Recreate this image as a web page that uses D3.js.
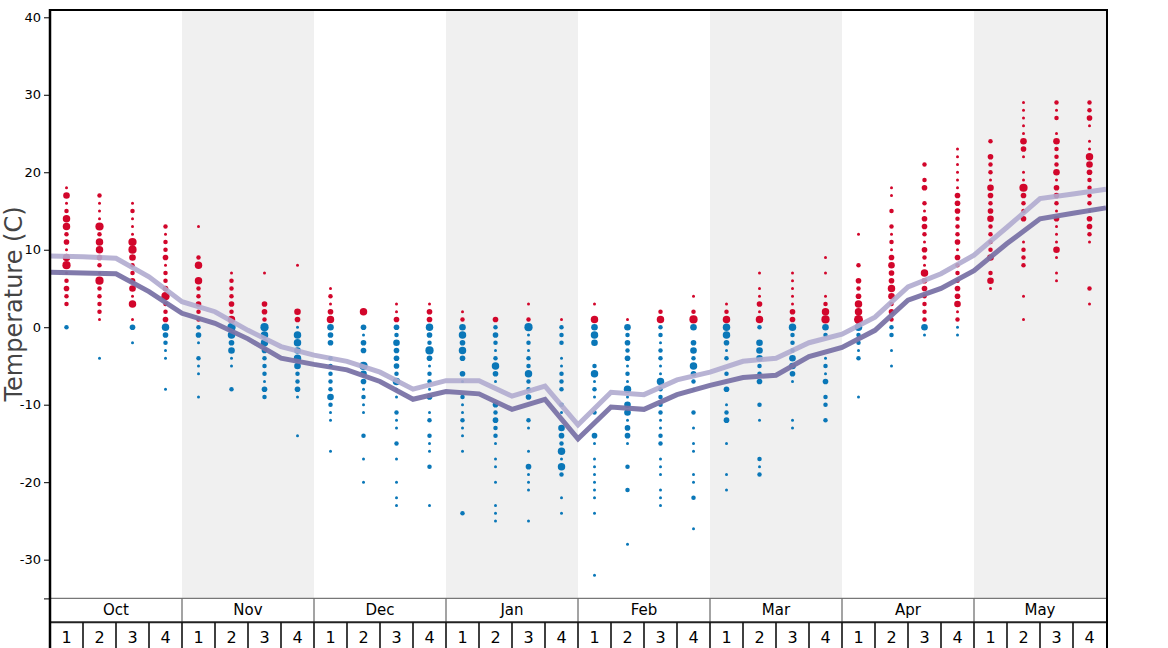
<!DOCTYPE html>
<html><head><meta charset="utf-8">
<script src="https://cdn.jsdelivr.net/npm/d3@7"></script>
<style>
html,body{margin:0;padding:0;background:#fff;}
svg{display:block;font-family:"DejaVu Sans",sans-serif;}
</style></head>
<body><svg id="chart" width="1168" height="648"></svg>
<script>
const months = ["Oct","Nov","Dec","Jan","Feb","Mar","Apr","May"];
const weeks = ["1","2","3","4"];
const yTicks = [-30,-20,-10,0,10,20,30,40];
const yLabel = "Temperature (C)";

// observed temperatures per week: [temperature, number of observations]
const obsOct = [
 [[18,1],[17,4],[16,1],[15,2],[14,5],[13,5],[12,2],[11,3],[10,1],[9,5],[8,6],[7,1],[6,2],[5,3],[4,2],[3,2],[0,2]],
 [[17,2],[16,1],[15,1],[14,1],[13,6],[12,2],[11,5],[10,5],[9,3],[8,2],[7,1],[6,6],[5,2],[4,2],[3,2],[2,2],[1,1],[-4,1]],
 [[16,1],[15,2],[14,1],[13,1],[12,1],[11,6],[10,6],[9,4],[8,2],[7,2],[6,3],[5,4],[4,1],[3,5],[1,1],[0,3],[-2,1]],
 [[13,2],[12,1],[11,2],[10,2],[9,3],[8,1],[7,2],[6,2],[5,3],[4,6],[3,2],[2,2],[1,3],[0,5],[-1,3],[-2,2],[-3,1],[-4,1],[-8,1]]
];
const obsNov = [
 [[13,1],[9,2],[8,5],[6,5],[5,2],[4,2],[3,3],[2,2],[1,2],[0,2],[-1,3],[-2,1],[-4,2],[-5,1],[-6,1],[-9,1]],
 [[7,1],[6,2],[5,2],[4,2],[3,3],[2,2],[1,5],[0,6],[-1,5],[-2,3],[-3,4],[-4,1],[-5,1],[-8,2]],
 [[7,1],[3,3],[2,3],[1,2],[0,6],[-1,5],[-2,5],[-3,3],[-4,2],[-5,2],[-6,2],[-7,1],[-8,3],[-9,2]],
 [[8,1],[2,4],[1,3],[0,1],[-1,5],[-2,5],[-3,4],[-4,5],[-5,4],[-6,2],[-7,2],[-8,3],[-9,1],[-14,1]]
];
const obsDec = [
 [[5,1],[4,2],[3,1],[2,3],[1,5],[0,4],[-1,3],[-2,3],[-4,2],[-5,2],[-6,2],[-7,2],[-8,2],[-9,4],[-10,2],[-11,1],[-12,1],[-16,1]],
 [[2,5],[0,3],[-1,1],[-2,3],[-3,3],[-5,6],[-6,4],[-7,3],[-8,1],[-9,2],[-10,1],[-11,1],[-14,2],[-17,1],[-20,1]],
 [[3,1],[2,1],[1,3],[0,3],[-1,2],[-2,4],[-3,3],[-4,3],[-5,3],[-6,2],[-7,5],[-8,1],[-9,1],[-11,2],[-12,1],[-13,1],[-15,2],[-17,1],[-20,1],[-22,1],[-23,1]],
 [[3,1],[2,3],[1,3],[0,5],[-1,3],[-2,2],[-3,6],[-4,3],[-5,1],[-6,2],[-7,2],[-8,1],[-9,3],[-11,1],[-12,2],[-14,2],[-15,1],[-16,1],[-18,2],[-23,1]]
];
const obsJan = [
 [[2,1],[1,2],[0,4],[-1,5],[-2,3],[-3,5],[-4,3],[-6,3],[-7,1],[-9,2],[-10,1],[-11,1],[-12,2],[-13,1],[-14,1],[-16,1],[-24,2]],
 [[1,3],[0,2],[-1,3],[-2,2],[-3,1],[-4,2],[-5,5],[-6,3],[-7,1],[-10,3],[-11,2],[-12,3],[-13,2],[-14,2],[-15,1],[-17,1],[-18,1],[-20,1],[-23,1],[-24,1],[-25,1]],
 [[3,1],[1,2],[0,6],[-1,1],[-2,2],[-3,1],[-4,2],[-5,2],[-6,5],[-7,2],[-8,2],[-9,3],[-12,2],[-13,1],[-16,1],[-18,3],[-19,1],[-20,1],[-21,1],[-25,1]],
 [[1,1],[0,2],[-1,2],[-2,2],[-4,1],[-5,1],[-6,2],[-7,2],[-8,2],[-10,2],[-11,1],[-13,4],[-14,3],[-15,2],[-16,5],[-17,1],[-18,5],[-19,2],[-22,1],[-24,1]]
];
const obsFeb = [
 [[3,1],[1,5],[0,4],[-1,5],[-2,4],[-5,2],[-6,5],[-7,1],[-8,2],[-9,1],[-11,2],[-14,3],[-15,1],[-17,1],[-18,1],[-19,1],[-20,1],[-21,1],[-22,1],[-24,1],[-32,1]],
 [[1,1],[0,4],[-1,2],[-2,3],[-3,2],[-4,3],[-5,1],[-6,2],[-7,1],[-8,5],[-9,1],[-10,4],[-11,4],[-12,1],[-13,3],[-14,3],[-15,1],[-18,2],[-21,2],[-28,1]],
 [[2,2],[1,5],[0,2],[-1,2],[-2,1],[-3,2],[-4,2],[-5,1],[-6,1],[-7,5],[-8,2],[-9,2],[-10,2],[-11,2],[-12,1],[-13,1],[-14,2],[-15,2],[-17,1],[-18,1],[-19,1],[-21,1],[-22,1],[-23,1]],
 [[4,1],[2,2],[1,6],[0,4],[-2,3],[-3,4],[-4,2],[-5,5],[-6,3],[-7,2],[-8,1],[-11,2],[-13,1],[-15,1],[-16,1],[-19,1],[-20,1],[-22,2],[-26,1]]
];
const obsMar = [
 [[3,1],[2,2],[1,5],[0,5],[-1,5],[-2,3],[-3,1],[-4,2],[-6,2],[-8,3],[-10,1],[-11,2],[-12,3],[-15,1],[-19,1],[-21,1]],
 [[7,1],[5,1],[4,1],[3,3],[2,1],[1,5],[0,2],[-2,4],[-3,4],[-4,4],[-5,2],[-6,2],[-7,3],[-10,2],[-12,1],[-17,2],[-18,1],[-19,2]],
 [[7,1],[6,1],[5,1],[4,1],[3,1],[2,3],[1,3],[0,5],[-1,2],[-2,2],[-3,2],[-4,4],[-5,4],[-6,3],[-7,1],[-12,1],[-13,1]],
 [[9,1],[7,1],[4,1],[3,2],[2,5],[1,6],[0,4],[-1,2],[-4,1],[-5,2],[-6,1],[-7,3],[-9,2],[-10,2],[-12,2]]
];
const obsApr = [
 [[12,1],[8,2],[6,3],[5,2],[4,3],[3,5],[2,5],[1,7],[0,5],[-1,2],[-2,2],[-3,1],[-4,2],[-9,1]],
 [[18,1],[17,1],[15,2],[13,2],[12,1],[11,2],[10,1],[9,3],[8,4],[7,3],[6,3],[5,5],[4,4],[3,2],[2,3],[1,2],[0,2],[-1,2],[-3,1],[-5,1]],
 [[21,2],[19,2],[18,3],[16,2],[15,1],[14,3],[13,3],[12,2],[11,1],[10,3],[9,2],[8,1],[7,5],[6,3],[5,3],[4,2],[3,2],[2,2],[1,2],[0,4],[-1,1]],
 [[23,1],[22,1],[21,1],[20,1],[19,1],[18,1],[17,3],[16,3],[15,3],[14,2],[13,2],[12,2],[11,3],[10,1],[9,3],[8,2],[7,2],[6,2],[5,3],[4,3],[3,4],[2,1],[1,2],[0,1],[-1,1]]
];
const obsMay = [
 [[24,2],[22,3],[21,2],[20,2],[19,1],[18,4],[17,3],[16,2],[15,3],[14,4],[13,2],[12,2],[11,2],[10,2],[9,4],[7,2],[6,4],[5,1]],
 [[29,1],[28,1],[27,1],[26,1],[25,1],[24,4],[23,3],[22,1],[20,1],[19,1],[18,6],[17,3],[16,2],[15,2],[14,3],[11,1],[10,2],[9,2],[8,2],[4,1],[1,1]],
 [[29,2],[28,1],[27,2],[25,1],[24,4],[23,2],[22,2],[21,2],[20,4],[19,1],[18,3],[17,3],[16,2],[15,1],[14,3],[13,1],[12,1],[11,1],[10,4],[9,1],[7,1],[6,1]],
 [[29,2],[28,2],[27,3],[26,1],[24,1],[23,1],[22,5],[21,4],[20,3],[19,2],[18,2],[17,2],[16,2],[15,1],[14,3],[13,3],[12,2],[11,1],[5,2],[3,1]]
];

// smoothed curves, one value per week boundary (33 points)
const upperLine = [9.2,9.1,8.9,6.5,3.3,2.0,-0.4,-2.5,-3.6,-4.4,-5.8,-8.0,-6.9,-6.9,-8.9,-7.6,-12.6,-8.4,-8.7,-6.8,-5.8,-4.4,-4.0,-2.0,-0.9,1.3,5.2,6.9,9.3,12.9,16.6,17.2,17.8];
const lowerLine = [7.1,7.0,6.9,4.6,1.8,0.5,-1.5,-4.0,-4.8,-5.5,-7.0,-9.3,-8.3,-8.6,-10.6,-9.3,-14.4,-10.3,-10.6,-8.7,-7.5,-6.5,-6.2,-3.8,-2.6,-0.4,3.5,5.0,7.3,10.8,14.0,14.7,15.4];

const obsByMonth = [obsOct,obsNov,obsDec,obsJan,obsFeb,obsMar,obsApr,obsMay];

(function () {
const svg = d3.select("#chart");
const left = 50, right = 1106, plotTop = 10, plotBottom = 598.4;
const monthRowBottom = 622.3, weekRowBottom = 648;

const cols = [];
months.forEach(m => weeks.forEach(w => cols.push(m + "-" + w)));

const x = d3.scaleBand().domain(cols).range([left, right]).paddingInner(0).paddingOuter(0);
const xb = d3.scaleLinear().domain([0, cols.length]).range([left, right]);
const y = d3.scaleLinear().domain([-35, 40]).range([plotBottom, 17.3]);
const r = d3.scaleSqrt().domain([1, 8]).range([1.5, 4.8]);

// shading
months.forEach((m, mi) => {
  if (mi % 2 === 1) {
    svg.append("rect")
      .attr("x", x(m + "-1")).attr("y", plotTop)
      .attr("width", x.bandwidth() * 4).attr("height", plotBottom - plotTop)
      .attr("fill", "#f0f0f0");
  }
});

// dots
const dots = [];
obsByMonth.forEach((mon, mi) => mon.forEach((wk, wi) => wk.forEach(([t, n]) => {
  dots.push({col: months[mi] + "-" + weeks[wi], t, n});
})));
svg.append("g").selectAll("circle").data(dots).join("circle")
  .attr("cx", d => x(d.col) + x.bandwidth() / 2)
  .attr("cy", d => y(d.t))
  .attr("r", d => r(d.n))
  .attr("fill", d => d.t > 0 ? "#d2062b" : "#0a77b8");

// lines
const line = d3.line().x((d, i) => xb(i)).y(d => y(d));
svg.append("path").datum(upperLine).attr("d", line)
  .attr("fill", "none").attr("stroke", "#b0abcf").attr("stroke-width", 5)
  .attr("stroke-opacity", 0.9).attr("stroke-linejoin", "miter");
svg.append("path").datum(lowerLine).attr("d", line)
  .attr("fill", "none").attr("stroke", "#7a73a6").attr("stroke-width", 5)
  .attr("stroke-opacity", 0.95).attr("stroke-linejoin", "miter");

// y axis
const yAxis = d3.axisLeft(y).tickValues([-35].concat(yTicks)).tickSize(6).tickPadding(3)
  .tickFormat(d => d === -35 ? "" : String(d));
const gy = svg.append("g").attr("transform", `translate(${left},0)`).call(yAxis);
gy.select(".domain").remove();
gy.selectAll(".tick line").attr("stroke", "#000");
gy.selectAll(".tick text").attr("font-size", 13).attr("fill", "#000").attr("font-family", "DejaVu Sans");

svg.append("text").text(yLabel)
  .attr("transform", "translate(22,304) rotate(-90)")
  .attr("text-anchor", "middle")
  .attr("font-size", 24).attr("fill", "#444");

// bottom month row
svg.append("line").attr("x1", left).attr("x2", right + 1).attr("y1", plotBottom).attr("y2", plotBottom)
  .attr("stroke", "#777").attr("stroke-width", 1.2);
months.forEach((m, mi) => {
  const x0 = x(m + "-1");
  if (mi > 0) svg.append("line").attr("x1", x0).attr("x2", x0).attr("y1", plotBottom).attr("y2", monthRowBottom)
    .attr("stroke", "#666").attr("stroke-width", 1.2);
  svg.append("text").text(m).attr("x", x0 + x.bandwidth() * 2).attr("y", 615)
    .attr("text-anchor", "middle").attr("font-size", 15).attr("fill", "#000");
});
svg.append("line").attr("x1", left).attr("x2", right + 1).attr("y1", monthRowBottom).attr("y2", monthRowBottom)
  .attr("stroke", "#222").attr("stroke-width", 2);
cols.forEach((c, i) => {
  const x0 = x(c);
  if (i > 0) svg.append("line").attr("x1", x0).attr("x2", x0).attr("y1", monthRowBottom).attr("y2", weekRowBottom)
    .attr("stroke", "#111").attr("stroke-width", 1.6);
  svg.append("text").text(c.split("-")[1]).attr("x", x0 + x.bandwidth() / 2).attr("y", 643)
    .attr("text-anchor", "middle").attr("font-size", 16).attr("fill", "#000");
});

// frame
svg.append("line").attr("x1", left).attr("x2", right + 1).attr("y1", plotTop).attr("y2", plotTop)
  .attr("stroke", "#000").attr("stroke-width", 2);
svg.append("line").attr("x1", left).attr("x2", left).attr("y1", plotTop - 1).attr("y2", weekRowBottom)
  .attr("stroke", "#000").attr("stroke-width", 2.5);
svg.append("line").attr("x1", right + 1).attr("x2", right + 1).attr("y1", plotTop - 1).attr("y2", weekRowBottom)
  .attr("stroke", "#000").attr("stroke-width", 2);
})();
</script></body></html>
